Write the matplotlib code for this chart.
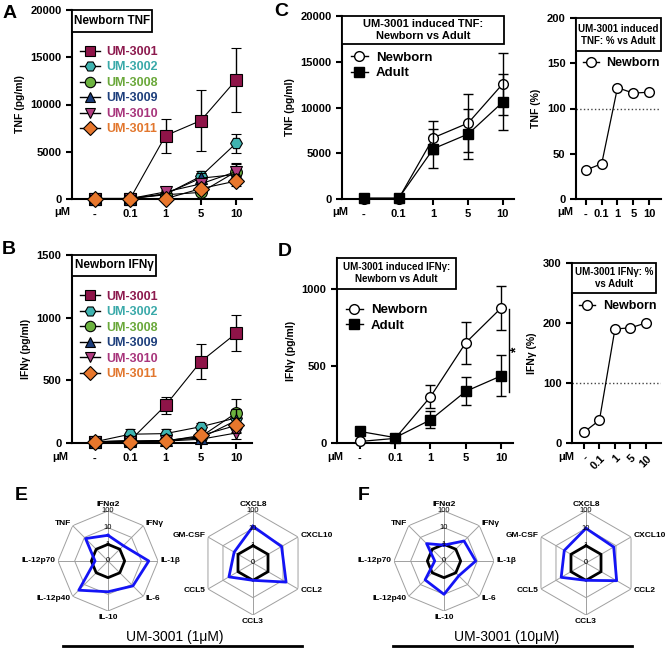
import numpy as np
import matplotlib
matplotlib.use('Agg')
import matplotlib.pyplot as plt
from matplotlib.patches import Rectangle
from matplotlib.lines import Line2D

plt.rcParams['font.family'] = ['Liberation Sans', 'DejaVu Sans']
plt.rcParams.update({'font.size': 8, 'font.weight': 'bold', 'axes.labelweight': 'bold',
                     'axes.linewidth': 1.5, 'xtick.major.width': 1.5, 'ytick.major.width': 1.5,
                     'xtick.major.size': 4, 'ytick.major.size': 4,
                     'xtick.labelsize': 8, 'ytick.labelsize': 8})

W, H = 668, 649

# ---------------- data ----------------
doses = ['-', '0.1', '1', '5', '10']
compounds = ['UM-3001', 'UM-3002', 'UM-3008', 'UM-3009', 'UM-3010', 'UM-3011']
text_colors = ['#8c1a4e', '#3aa9a9', '#6aa83a', '#1e3f7c', '#a8357c', '#e2772e']
face_colors = ['#8e1448', '#3fb3b0', '#6cb33f', '#1a3c7a', '#b13c80', '#e8772c']
markers = ['s', 'H', 'o', '^', 'v', 'D']

# newborn TNF (pg/ml), rows follow compounds
tnf_mean = [[50, 50, 6700, 8300, 12600],
            [50, 50, 500, 2400, 5900],
            [50, 50, 450, 700, 2900],
            [50, 50, 550, 2200, 2600],
            [50, 50, 750, 1600, 2900],
            [50, 50, 30, 1100, 1900]]
tnf_err = [[0, 0, 1800, 3200, 3400],
           [0, 0, 100, 600, 1000],
           [0, 0, 100, 300, 900],
           [0, 0, 100, 500, 700],
           [0, 0, 150, 400, 800],
           [0, 0, 0, 300, 500]]

# newborn IFNg (pg/ml)
ifng_mean = [[10, 20, 300, 650, 875],
             [10, 70, 75, 130, 200],
             [10, 15, 20, 50, 240],
             [10, 15, 20, 40, 180],
             [10, 10, 15, 30, 80],
             [10, 10, 15, 60, 140]]
ifng_err = [[0, 0, 70, 137, 143],
            [0, 40, 35, 30, 60],
            [0, 5, 10, 20, 110],
            [0, 5, 10, 15, 90],
            [0, 0, 5, 10, 50],
            [0, 0, 5, 20, 60]]

# UM-3001 newborn vs adult
tnf_adult = [100, 100, 5500, 7100, 10600]
tnf_adult_err = [0, 0, 2100, 2700, 3100]
tnf_pct = [32, 39, 123, 117, 118]

ifng_nb = [10, 30, 300, 650, 875]
ifng_nb_err = [0, 0, 75, 135, 145]
ifng_adult = [75, 35, 150, 335, 435]
ifng_adult_err = [10, 5, 55, 90, 133]
ifng_pct = [18, 38, 190, 192, 200]

# radar: fold change, log scale rings 0 / 1 / 10 / 100
cyto8 = ['IFNα2', 'IFNγ', 'IL-1β', 'IL-6', 'IL-10', 'IL-12p40', 'IL-12p70', 'TNF']
chemo6 = ['CXCL8', 'CXCL10', 'CCL2', 'CCL3', 'CCL5', 'GM-CSF']
cyto_1um = [3.5, 2.0, 28, 13, 7, 30, 0.6, 8]
chemo_1um = [13, 8, 16, 1.0, 4, 1.8]
cyto_10um = [0.9, 5, 8, 1.8, 10, 4, 0.36, 3]
chemo_10um = [10, 7, 11, 1.0, 4.5, 2.8]
ring_labels = ['0', '1', '10', '100']

fig = plt.figure(figsize=(W / 100, H / 100), dpi=100)


def px_axes(l, t, r, b, **kw):
    ax = fig.add_axes([l / W, 1 - b / H, (r - l) / W, (b - t) / H], **kw)
    ax._px = (r - l, b - t)
    return ax


def style(ax, xlim, ylim, yticks, ylabel):
    x = np.arange(len(doses))
    ax.set_xlim(*xlim)
    ax.set_ylim(*ylim)
    ax.set_xticks(x)
    ax.set_xticklabels(doses)
    ax.set_yticks(yticks)
    ax.spines['top'].set_visible(False)
    ax.spines['right'].set_visible(False)
    ax.set_ylabel(ylabel, fontsize=7.5, labelpad=4)


def title_box(ax, text, wpx, hpx, fs):
    w, h = wpx / ax._px[0], hpx / ax._px[1]
    ax.add_patch(Rectangle((0, 1 - h), w, h, transform=ax.transAxes, fc='white',
                           ec='black', lw=1.3, clip_on=False, zorder=5))
    ax.text(w / 2, 1 - h / 2, text, transform=ax.transAxes, ha='center', va='center',
            fontsize=fs, fontweight='bold', zorder=6, linespacing=1.25)


def fig_text(x, y, s, **kw):
    fig.text(x / W, 1 - y / H, s, **kw)


def compound_panel(ax, means, errs):
    handles = []
    for i in range(len(compounds)):
        ms = 8 if markers[i] == 's' else 8.5
        ax.errorbar(x, means[i], yerr=errs[i], color='black', lw=0.8, elinewidth=1,
                    capsize=3.5, capthick=1, marker=markers[i], ms=ms, mfc=face_colors[i],
                    mec='black', mew=0.8, clip_on=False, zorder=3 + i)
        handles.append(Line2D([], [], color='black', lw=1, marker=markers[i], ms=ms - 1,
                              mfc=face_colors[i], mec='black', mew=0.8))
    ax.legend(handles, compounds, loc='upper left', bbox_to_anchor=(0.045, 0.81), frameon=False,
              labelcolor=text_colors, prop={'weight': 'bold', 'size': 9}, handlelength=1.6,
              handletextpad=0.5, labelspacing=0.28, borderpad=0, borderaxespad=0)


x = np.arange(len(doses))

# ---------------- A ----------------
axA = px_axes(72, 10, 252, 199)
style(axA, (-0.65, 4.45), (0, 20000), [0, 5000, 10000, 15000, 20000], 'TNF (pg/ml)')
compound_panel(axA, tnf_mean, tnf_err)
title_box(axA, 'Newborn TNF', 80, 22, 8.5)

# ---------------- B ----------------
axB = px_axes(72, 255, 252, 443)
style(axB, (-0.65, 4.45), (0, 1500), [0, 500, 1000, 1500], 'IFNγ (pg/ml)')
compound_panel(axB, ifng_mean, ifng_err)
title_box(axB, 'Newborn IFNγ', 84, 21, 8.5)

# ---------------- C ----------------
hC = [Line2D([], [], color='black', lw=1, marker='o', ms=7, mfc='white', mec='black'),
      Line2D([], [], color='black', lw=1, marker='s', ms=6.5, mfc='black')]

axC = px_axes(342, 16, 514, 199)
style(axC, (-0.633, 4.32), (0, 20000), [0, 5000, 10000, 15000, 20000], 'TNF (pg/ml)')
axC.errorbar(x, tnf_mean[0], yerr=tnf_err[0], color='black', lw=0.9, elinewidth=1, capsize=3.5,
             capthick=1, marker='o', ms=7, mfc='white', mec='black', mew=1, clip_on=False,
             zorder=3)
axC.errorbar(x, tnf_adult, yerr=tnf_adult_err, color='black', lw=0.9, elinewidth=1, capsize=3.5,
             capthick=1, marker='s', ms=6.5, mfc='black', mec='black', clip_on=False,
             zorder=4)
title_box(axC, 'UM-3001 induced TNF:\nNewborn vs Adult', 162, 28, 8)
axC.legend(hC, ['Newborn', 'Adult'], loc='upper left', bbox_to_anchor=(0.05, 0.805),
           frameon=False, prop={'weight': 'bold', 'size': 9.5}, handlelength=1.3,
           handletextpad=0.6, labelspacing=0.25, borderpad=0, borderaxespad=0)

axC2 = px_axes(576, 18, 661, 199)
style(axC2, (-0.63, 4.76), (0, 200), [0, 50, 100, 150, 200], 'TNF (%)')
axC2.axhline(100, color='#444444', ls=':', lw=1)
axC2.plot(x, tnf_pct, color='black', lw=0.9, marker='o', ms=7, mfc='white', mec='black',
          mew=1, clip_on=False, zorder=3)
title_box(axC2, 'UM-3001 induced\nTNF: % vs Adult', 85, 33, 7)
axC2.legend([hC[0]], ['Newborn'], loc='upper left', bbox_to_anchor=(0.08, 0.785),
            frameon=False, prop={'weight': 'bold', 'size': 9}, handlelength=1.3,
            handletextpad=0.6, borderpad=0, borderaxespad=0)

# ---------------- D ----------------
axD = px_axes(337, 258, 513, 443)
style(axD, (-0.65, 4.34), (0, 1200), [0, 500, 1000], 'IFNγ (pg/ml)')
axD.errorbar(x, ifng_nb, yerr=ifng_nb_err, color='black', lw=0.9, elinewidth=1, capsize=3.5,
             capthick=1, marker='o', ms=7, mfc='white', mec='black', mew=1, clip_on=False,
             zorder=3)
axD.errorbar(x, ifng_adult, yerr=ifng_adult_err, color='black', lw=0.9, elinewidth=1,
             capsize=3.5, capthick=1, marker='s', ms=6.5, mfc='black', mec='black',
             clip_on=False, zorder=4)
axD.plot([4.23, 4.23], [330, 870], color='black', lw=1, clip_on=False)
axD.text(4.45, 600, '*', ha='center', va='center', fontsize=10, rotation=90, clip_on=False)
title_box(axD, 'UM-3001 induced IFNγ:\nNewborn vs Adult', 119, 31, 7)
axD.legend(hC, ['Newborn', 'Adult'], loc='upper left', bbox_to_anchor=(0.05, 0.75),
           frameon=False, prop={'weight': 'bold', 'size': 9.5}, handlelength=1.3,
           handletextpad=0.6, labelspacing=0.25, borderpad=0, borderaxespad=0)

axD2 = px_axes(572, 263, 661, 443)
style(axD2, (-0.77, 4.97), (0, 300), [0, 100, 200, 300], 'IFNγ (%)')
axD2.set_xticklabels(doses, rotation=45, ha='right', rotation_mode='anchor')
axD2.axhline(100, color='#444444', ls=':', lw=1)
axD2.plot(x, ifng_pct, color='black', lw=0.9, marker='o', ms=7, mfc='white', mec='black',
          mew=1, clip_on=False, zorder=3)
title_box(axD2, 'UM-3001 IFNγ: %\nvs Adult', 84, 30, 7)
axD2.legend([hC[0]], ['Newborn'], loc='upper left', bbox_to_anchor=(0.08, 0.795),
            frameon=False, prop={'weight': 'bold', 'size': 9}, handlelength=1.3,
            handletextpad=0.6, borderpad=0, borderaxespad=0)

# uM labels and panel letters
for px, py in [(62, 212), (340, 212), (565, 212), (60, 457), (335, 457), (566, 457)]:
    fig_text(px, py, 'μM', ha='center', va='center', fontsize=8, fontweight='bold')
for s, px, py in [('A', 10, 14), ('B', 9, 250), ('C', 281, 12), ('D', 285, 251),
                  ('E', 21, 495), ('F', 364, 495)]:
    fig_text(px, py, s, ha='center', va='center', fontsize=14, fontweight='bold')


# ---------------- radar ----------------
def radar(cx, cy, R, labels, values):
    ax = px_axes(cx - R, cy - R, cx + R, cy + R, projection='polar')
    n = len(labels)
    th = np.arange(n) * 2 * np.pi / n
    ax.set_theta_zero_location('N')
    ax.set_theta_direction(-1)
    ax.set_ylim(0, 3)
    ax.grid(False)
    ax.set_xticks([])
    ax.set_yticks([])
    ax.spines['polar'].set_visible(False)
    ax.patch.set_alpha(0)
    closed = np.append(th, th[0])
    for lev in (1, 2, 3):
        ax.plot(closed, [lev] * (n + 1), color='#a0a0a0', lw=0.7)
    for t in th:
        ax.plot([t, t], [0, 3], color='#a0a0a0', lw=0.7)
    ax.plot(closed, [1] * (n + 1), color='black', lw=2, zorder=4)
    r = np.log10(values) + 1
    ax.plot(closed, np.append(r, r[0]), color='#1414f5', lw=2, zorder=5)
    for t, lab in zip(th, labels):
        s, c = np.sin(t), np.cos(t)
        ha = 'center' if abs(s) < 0.1 else ('left' if s > 0 else 'right')
        va = 'bottom' if c > 0.9 else ('top' if c < -0.9 else 'center')
        ax.annotate(lab, xy=(t, 3), xytext=(2 * s, 2.5 * c), textcoords='offset points',
                    ha=ha, va=va, fontsize=6, fontweight='bold', annotation_clip=False)
    for lev, lab in enumerate(ring_labels):
        ax.text(0, lev, lab, ha='center', va='center', fontsize=5.5, fontweight='normal',
                zorder=6)
    return ax


radar(108, 561, 50, cyto8, cyto_1um)
radar(253, 563, 52, chemo6, chemo_1um)
radar(444, 561, 50, cyto8, cyto_10um)
radar(586, 563, 52, chemo6, chemo_10um)

fig_text(175, 637, 'UM-3001 (1μM)', ha='center', va='center', fontsize=10, fontweight='normal')
fig_text(507, 637, 'UM-3001 (10μM)', ha='center', va='center', fontsize=10, fontweight='normal')
fig.add_artist(Line2D([63 / W, 302 / W], [1 - 646 / H] * 2, color='black', lw=2))
fig.add_artist(Line2D([393 / W, 632 / W], [1 - 646 / H] * 2, color='black', lw=2))

fig.savefig('out.png', dpi=100)
